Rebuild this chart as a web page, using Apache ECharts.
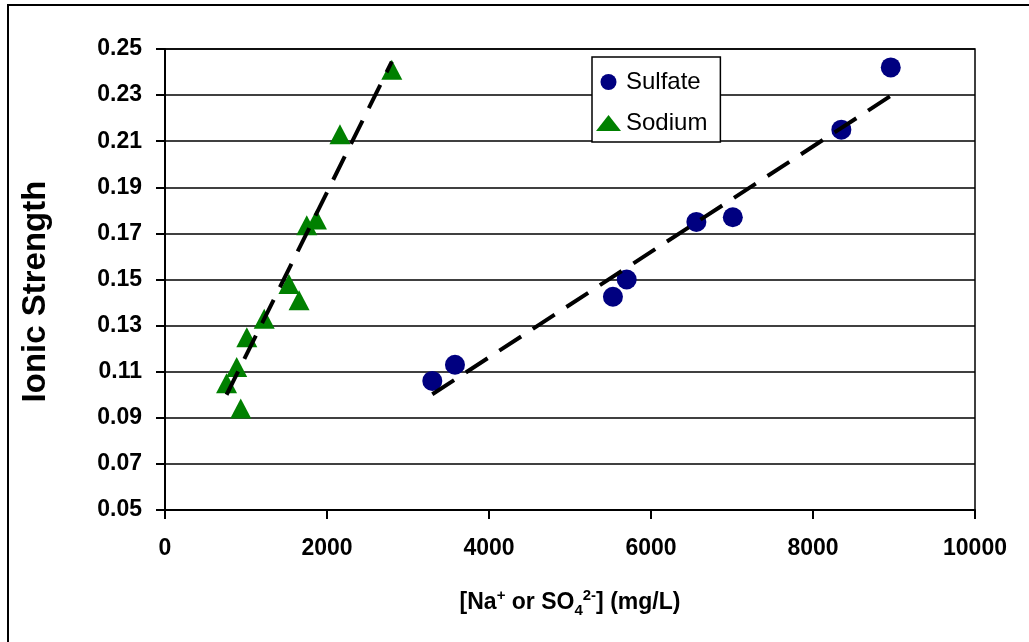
<!DOCTYPE html>
<html>
<head>
<meta charset="utf-8">
<title>Ionic Strength vs concentration</title>
<script src="https://cdn.jsdelivr.net/npm/echarts@6/dist/echarts.min.js"></script>
<style>
  html, body { margin: 0; padding: 0; background: #fff; }
  #chart { width: 1029px; height: 642px; }
</style>
</head>
<body>
<div id="chart"></div>
<script type="text/javascript">
// values
var sulfateX = [3300, 3580, 5530, 5700, 6560, 7010, 8350, 8960];
var sulfateY = [0.106, 0.113, 0.1425, 0.150, 0.175, 0.177, 0.215, 0.242];
var sodiumX = [760, 885, 935, 1010, 1225, 1530, 1655, 1750, 1870, 2160, 2800];
var sodiumY = [0.105, 0.112, 0.094, 0.125, 0.133, 0.148, 0.141, 0.1735, 0.176, 0.213, 0.241];
// linear trend lines (end points)
var sulfateTrendX = [3300, 8960];
var sulfateTrendY = [0.1002, 0.2297];
var sodiumTrendX = [760, 2800];
var sodiumTrendY = [0.1000, 0.2445];
// axis ranges
var xTicks = [0, 10000, 2000];
var yTicks = [0.05, 0.25, 0.02];

function pairs(xs, ys) {
	var out = [];
	for (var i = 0; i < xs.length; i++) out.push([xs[i], ys[i]]);
	return out;
}

var font = '"Liberation Sans", Arial, sans-serif';
var chart = echarts.init(document.getElementById('chart'));
var dash = { color: '#000', width: 4, type: [26, 14], cap: 'butt' };

var option = {
	animation: false,
	textStyle: { fontFamily: font },
	graphic: [{
		type: 'rect',
		shape: { x: 8, y: 5, width: 1100, height: 700 },
		style: { fill: null, stroke: '#000', lineWidth: 2 },
		z: 100
	}],
	grid: {
		left: 165, right: 54, top: 49, bottom: 132,
		show: true, borderColor: '#000', borderWidth: 1.5
	},
	legend: {
		orient: 'vertical',
		left: 592, top: 57,
		padding: [13, 13, 7, 4],
		itemGap: 17,
		itemWidth: 25, itemHeight: 16,
		backgroundColor: '#fff',
		borderColor: '#000', borderWidth: 1.5,
		textStyle: { fontFamily: font, fontSize: 24, color: '#000' },
		data: ['Sulfate', 'Sodium']
	},
	xAxis: {
		type: 'value',
		min: xTicks[0], max: xTicks[1], interval: xTicks[2],
		name: '[Na{sup|+} or SO{sub|4}{sup|2-}] (mg/L)',
		nameLocation: 'middle',
		nameGap: 78,
		nameTextStyle: {
			fontFamily: font, fontSize: 23, fontWeight: 'bold', color: '#000', lineHeight: 30,
			rich: {
				sup: { fontFamily: font, fontSize: 15, fontWeight: 'bold', color: '#000', verticalAlign: 'top', lineHeight: 15 },
				sub: { fontFamily: font, fontSize: 15, fontWeight: 'bold', color: '#000', verticalAlign: 'bottom', lineHeight: 15 }
			}
		},
		axisLine: { show: true, lineStyle: { color: '#000', width: 2 } },
		axisTick: { show: true, length: 9, lineStyle: { color: '#000', width: 2 } },
		axisLabel: {
			fontFamily: font, fontSize: 23, fontWeight: 'bold', color: '#000', margin: 27,
			formatter: function (v) { return String(v); }
		},
		splitLine: { show: false }
	},
	yAxis: {
		type: 'value',
		min: yTicks[0], max: yTicks[1], interval: yTicks[2],
		name: 'Ionic Strength',
		nameLocation: 'middle',
		nameRotate: 90,
		nameGap: 113,
		nameTextStyle: {
			fontFamily: font, fontSize: 33, fontWeight: 'bold', color: '#000',
			padding: [0, 24, 0, 0]
		},
		axisLine: { show: true, lineStyle: { color: '#000', width: 2 } },
		axisTick: { show: true, length: 9, lineStyle: { color: '#000', width: 2 } },
		axisLabel: {
			fontFamily: font, fontSize: 23, fontWeight: 'bold', color: '#000', margin: 23,
			formatter: function (v) { return v.toFixed(2); }
		},
		splitLine: { show: true, lineStyle: { color: '#000', width: 1.5 } }
	},
	series: [
		{
			name: 'Sulfate',
			type: 'scatter',
			symbol: 'circle',
			symbolSize: 20,
			itemStyle: { color: '#000080', opacity: 1 },
			data: pairs(sulfateX, sulfateY),
			z: 3
		},
		{
			name: 'Sodium',
			type: 'scatter',
			symbol: 'triangle',
			symbolSize: [21, 20],
			itemStyle: { color: '#008000', opacity: 1 },
			data: pairs(sodiumX, sodiumY),
			z: 3
		},
		{
			name: 'sulfate trend',
			type: 'line',
			showSymbol: false,
			silent: true,
			lineStyle: dash,
			data: pairs(sulfateTrendX, sulfateTrendY),
			z: 4
		},
		{
			name: 'sodium trend',
			type: 'line',
			showSymbol: false,
			silent: true,
			lineStyle: dash,
			data: pairs(sodiumTrendX, sodiumTrendY),
			z: 4
		}
	]
};
chart.setOption(option);
</script>
</body>
</html>
